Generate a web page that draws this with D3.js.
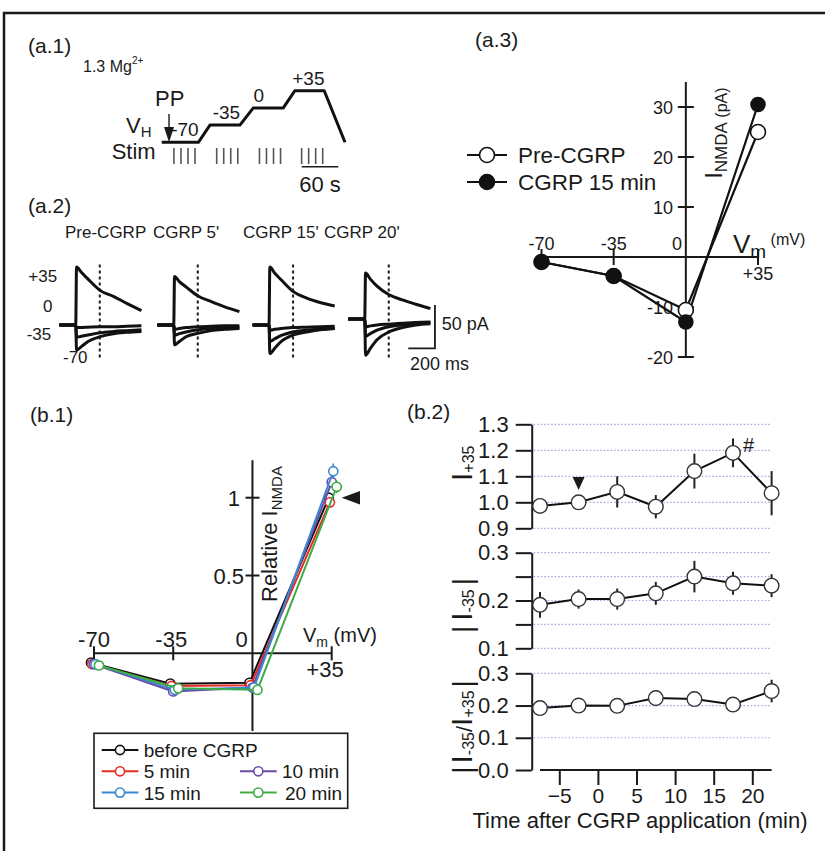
<!DOCTYPE html>
<html>
<head>
<meta charset="utf-8">
<script src="https://cdn.jsdelivr.net/npm/d3@7"></script>
<style>
  body { margin: 0; background: #fff; }
  svg { display: block; }
  text { font-family: 'Liberation Sans', Arial, Helvetica, sans-serif; fill: #1a1a1a; }
</style>
</head>
<body>
<div id="fig"></div>
<script>
// ---------- data ----------
// (a.1) holding-potential protocol (s, mV) and stimulus times
const protoTime = [0, 60, 79, 128, 150, 199, 218, 266, 300];
const protoVolt = [-70, -70, -35, -35, 0, 0, 35, 35, -70];
const stimStarts = [20, 90, 160, 229];
const stimOffsets = [0, 11.5, 23, 34.5];
const stepNames = ['-70', '-35', '0', '+35'];
const stepVolts = [-70, -35, 0, 35];

// (a.2) example NMDA currents (pA) sampled at traceTimes (ms after step)
const traceTitles = ['Pre-CGRP', "CGRP 5'", "CGRP 15'", "CGRP 20'"];
const traceTimes = [-125, -2, 4, 40, 90, 180, 280, 380, 490];
const tracePre = [
  [0, 0, 67, 61, 53, 40, 33, 25, 16.5],
  [0, 0, -3, -3, -2.5, -2, -2, -1.5, -1],
  [0, 0, -14, -13, -11.5, -9, -7.5, -6.5, -5.5],
  [0, 0, -29, -25, -19, -13.5, -10, -8.5, -7.5]
];
const trace5 = [
  [0, 0, 56, 50, 44, 33.5, 27, 21, 15.5],
  [0, 0, -5, -4, -3, -2, -1.5, -1, -1],
  [0, 0, -12, -10, -8, -5.5, -4, -3.5, -3],
  [0, 0, -23, -19, -13.5, -9.5, -6.5, -5, -4]
];
const trace15 = [
  [0, 0, 67, 60, 52, 38.5, 31, 26, 22],
  [0, 0, -6, -5, -4, -3, -2.5, -2, -1.5],
  [0, 0, -19, -16, -12, -8, -6, -5, -4],
  [0, 0, -33, -27, -19, -11.5, -8, -5.5, -4]
];
const trace20 = [
  [7, 7, 60, 53, 45, 35, 29, 24, 19],
  [7, 7, -2, -1, 0, 1, 2, 3, 3.5],
  [7, 7, -13, -10, -6, -2, 0, 1.5, 2.5],
  [7, 7, -35, -27, -17, -8, -3, 0, 1.5]
];
const traceRowNames = ['+35', '0', '-35', '-70'];

// (a.3) I-V relation (pA)
const ivVolts = [-70, -35, 0, 35];
const ivPre = [-1, -3.8, -10.6, 25];
const ivCgrp = [-1, -3.8, -13, 30.5];
const ivYTicks = [30, 20, 10, -10, -20];

// (b.1) normalised I-V
const relVolts = [-70, -35, 0, 35];
const relNames = ['before CGRP', '5 min', '10 min', '15 min', '20 min'];
const relBefore = [-0.06, -0.195, -0.19, 1.0];
const rel5 = [-0.07, -0.21, -0.205, 0.97];
const rel10 = [-0.07, -0.245, -0.22, 1.1];
const rel15 = [-0.07, -0.235, -0.22, 1.17];
const rel20 = [-0.078, -0.225, -0.235, 1.07];
const relErr35 = [0.03, 0.03, 0.03, 0.05, 0.04];
const relJitter = [-1.3, -0.8, 0, 0.7, 2.2];
const relColors = ['#111111', '#e42b24', '#6b4aa8', '#3a87d0', '#3eab47'];

// (b.2) time course
const tMin = [-7.5, -2.5, 2.5, 7.5, 12.5, 17.5, 22.5];
const iPlus35 = [0.986, 1.0, 1.04, 0.983, 1.12, 1.19, 1.035];
const iPlus35Err = [0.012, 0, 0.06, 0.045, 0.067, 0.055, 0.085];
const iMinus35 = [0.191, 0.203, 0.203, 0.215, 0.25, 0.236, 0.231];
const iMinus35Err = [0.027, 0.02, 0.022, 0.024, 0.033, 0.024, 0.024];
const ratio = [0.192, 0.2, 0.199, 0.223, 0.22, 0.203, 0.245];
const ratioErr = [0.02, 0.012, 0.02, 0.025, 0.02, 0.022, 0.035];
const timeTicks = [-5, 0, 5, 10, 15, 20];

// ---------- drawing ----------
const svg = d3.select('#fig').append('svg').attr('width', 825).attr('height', 851);
const ink = '#1a1a1a';

svg.append('path').attr('d', 'M4,851V13H825')
  .attr('fill', 'none').attr('stroke', ink).attr('stroke-width', 2.5);

function label(g, x, y, s, size, anchor) {
  return g.append('text').attr('x', x).attr('y', y).attr('font-size', size)
    .attr('text-anchor', anchor || 'start').text(s);
}

label(svg, 28, 53, '(a.1)', 21);
label(svg, 28, 213, '(a.2)', 21);
label(svg, 475, 47, '(a.3)', 21);
label(svg, 30, 422, '(b.1)', 21);
label(svg, 407, 419, '(b.2)', 21);

// ----- (a.1) -----
const a1 = svg.append('g');
const px = d3.scaleLinear().domain([0, 300]).range([161.7, 345]);
const pv = d3.scaleLinear().domain([-70, 35]).range([142.3, 90.7]);

a1.append('path')
  .datum(d3.zip(protoTime, protoVolt))
  .attr('d', d3.line().x(d => px(d[0])).y(d => pv(d[1])))
  .attr('fill', 'none').attr('stroke', '#111').attr('stroke-width', 3)
  .attr('stroke-linejoin', 'round');

a1.selectAll('line.stim')
  .data(d3.cross(stimStarts, stimOffsets, (s, o) => s + o))
  .join('line')
  .attr('x1', d => px(d)).attr('x2', d => px(d))
  .attr('y1', 148).attr('y2', 164)
  .attr('stroke', '#555').attr('stroke-width', 1.6);

const stepAt = [38, 106, 159, 240];
stepNames.forEach((s, i) => label(a1, px(stepAt[i]), pv(stepVolts[i]) - 6, s, 19, 'middle'));

a1.append('line').attr('x1', px(229)).attr('x2', px(289)).attr('y1', 166.7).attr('y2', 166.7)
  .attr('stroke', ink).attr('stroke-width', 1.6);
label(a1, px(259), 191.7, '60 s', 22, 'middle');

label(a1, 155, 106, 'PP', 22);
a1.append('line').attr('x1', px(12)).attr('x2', px(12)).attr('y1', 114).attr('y2', 130)
  .attr('stroke', ink).attr('stroke-width', 1.4);
a1.append('path')
  .attr('d', `M${px(12) - 5},127L${px(12) + 5},127L${px(12)},${pv(-70)}Z`)
  .attr('fill', ink);
const vh = label(a1, 126, 133, 'V', 22);
vh.append('tspan').attr('font-size', 15).attr('dy', 4).text('H');
label(a1, 111.7, 159, 'Stim', 22);
const mg = label(a1, 83, 72, '1.3 Mg', 16);
mg.append('tspan').attr('font-size', 10).attr('dy', -8).text('2+');

// ----- (a.2) -----
const a2 = svg.append('g');
const tx = d3.scaleLinear().domain([0, 200]).range([0, 26.7]);
const ty = d3.scaleLinear().domain([0, 50]).range([325, 281.7]);
const onsets = [76, 174, 269.3, 365];
const titleX = [65, 153, 243, 324];
const traceGroups = [tracePre, trace5, trace15, trace20];
const traceLine = d3.line()
  .x((d, j) => tx(traceTimes[j]))
  .y(d => ty(d))
  .curve(d3.curveMonotoneX);

traceGroups.forEach((grp, i) => {
  label(a2, titleX[i], 238.3, traceTitles[i], 17);
  const g = a2.append('g').attr('transform', `translate(${onsets[i]},0)`);
  g.append('line')
    .attr('x1', tx(178)).attr('x2', tx(178))
    .attr('y1', ty(70)).attr('y2', ty(-38))
    .attr('stroke', ink).attr('stroke-width', 2).attr('stroke-dasharray', '3,3');
  g.selectAll('path.tr').data(grp).join('path')
    .attr('d', traceLine)
    .attr('fill', 'none').attr('stroke', '#111').attr('stroke-width', 3)
    .attr('stroke-linejoin', 'round');
});

label(a2, 28.3, 281.7, traceRowNames[0], 17);
label(a2, 43, 311.7, traceRowNames[1], 17);
label(a2, 26.7, 340, traceRowNames[2], 17);
label(a2, 63, 363.3, traceRowNames[3], 17);

const sbX = onsets[3] + tx(524);
a2.append('path')
  .attr('d', `M${sbX},${ty(23)}V${ty(-27)}H${onsets[3] + tx(324)}`)
  .attr('fill', 'none').attr('stroke', ink).attr('stroke-width', 1.8);
label(a2, 441.7, 330, '50 pA', 18);
label(a2, 410, 370, '200 ms', 18);

// ----- (a.3) -----
const a3 = svg.append('g');
const ivX = d3.scaleLinear().domain([-70, 35]).range([541.5, 758]);
const ivY = d3.scaleLinear().domain([-20, 30]).range([357, 107]);
const x0 = ivX(0), y0 = ivY(0);

a3.append('line').attr('x1', ivX(-70)).attr('x2', ivX(35)).attr('y1', y0).attr('y2', y0)
  .attr('stroke', ink).attr('stroke-width', 2);
a3.append('line').attr('x1', x0).attr('x2', x0).attr('y1', ivY(35)).attr('y2', ivY(-20))
  .attr('stroke', ink).attr('stroke-width', 2);
a3.selectAll('line.yt').data(ivYTicks).join('line')
  .attr('x1', x0 - 8).attr('x2', x0 + 8).attr('y1', d => ivY(d)).attr('y2', d => ivY(d))
  .attr('stroke', ink).attr('stroke-width', 2);
a3.selectAll('text.yt').data(ivYTicks).join('text')
  .attr('x', 673).attr('y', d => ivY(d) + 6.5).attr('font-size', 18)
  .attr('text-anchor', 'end').text(d => d);
a3.selectAll('line.xt').data([-70, -35, 35]).join('line')
  .attr('x1', d => ivX(d)).attr('x2', d => ivX(d)).attr('y1', y0 - 8).attr('y2', y0 + 8)
  .attr('stroke', ink).attr('stroke-width', 2);
label(a3, ivX(-70), 250, '-70', 18, 'middle');
label(a3, ivX(-35), 250, '-35', 18, 'middle');
label(a3, 677, 250, '0', 18, 'middle');
label(a3, ivX(35), 280, '+35', 18, 'middle');

const vm = label(a3, 733, 253, 'V', 26);
vm.append('tspan').attr('font-size', 19).attr('dy', 5).text('m');
vm.append('tspan').attr('font-size', 16).attr('dy', -13).text(' (mV)');

const il = a3.append('text').attr('transform', 'translate(722,133) rotate(-90)')
  .attr('text-anchor', 'middle');
il.append('tspan').attr('font-size', 23).text('I');
il.append('tspan').attr('font-size', 17).attr('dy', 5).text('NMDA');
il.append('tspan').attr('font-size', 16).text(' (pA)');

const ivLine = d3.line().x((d, i) => ivX(ivVolts[i])).y(d => ivY(d));
a3.append('path').datum(ivPre).attr('d', ivLine)
  .attr('fill', 'none').attr('stroke', '#111').attr('stroke-width', 2.2);
a3.append('path').datum(ivCgrp).attr('d', ivLine)
  .attr('fill', 'none').attr('stroke', '#111').attr('stroke-width', 2.2);
a3.selectAll('circle.pre').data(ivPre).join('circle')
  .attr('cx', (d, i) => ivX(ivVolts[i])).attr('cy', d => ivY(d)).attr('r', 7.5)
  .attr('fill', '#fff').attr('stroke', '#111').attr('stroke-width', 1.6);
a3.selectAll('circle.cg').data(ivCgrp).join('circle')
  .attr('cx', (d, i) => ivX(ivVolts[i])).attr('cy', d => ivY(d)).attr('r', 7.8)
  .attr('fill', '#111');

[['Pre-CGRP', '#fff'], ['CGRP 15 min', '#111']].forEach(([s, f], i) => {
  const y = 155 + i * 27;
  a3.append('line').attr('x1', 467).attr('x2', 507).attr('y1', y).attr('y2', y)
    .attr('stroke', '#111').attr('stroke-width', 2.2);
  a3.append('circle').attr('cx', 487).attr('cy', y).attr('r', 7.5)
    .attr('fill', f).attr('stroke', '#111').attr('stroke-width', 1.6);
  label(a3, 518, y + 8, s, 22.5);
});

// ----- (b.1) -----
const b1 = svg.append('g');
const rX = d3.scaleLinear().domain([-70, 35]).range([94, 331.7]);
const rY = d3.scaleLinear().domain([0, 1]).range([653.3, 497.7]);
const rx0 = rX(0), ry0 = rY(0);

b1.append('line').attr('x1', rX(-70)).attr('x2', rX(35)).attr('y1', ry0).attr('y2', ry0)
  .attr('stroke', ink).attr('stroke-width', 2);
b1.append('line').attr('x1', rx0).attr('x2', rx0).attr('y1', rY(1.24)).attr('y2', rY(-0.5))
  .attr('stroke', ink).attr('stroke-width', 2);
b1.selectAll('line.yt').data([1, 0.5]).join('line')
  .attr('x1', rx0 - 7).attr('x2', rx0 + 7).attr('y1', d => rY(d)).attr('y2', d => rY(d))
  .attr('stroke', ink).attr('stroke-width', 2);
b1.selectAll('line.xt').data([-70, -35, 35]).join('line')
  .attr('x1', d => rX(d)).attr('x2', d => rX(d)).attr('y1', ry0 - 7).attr('y2', ry0 + 7)
  .attr('stroke', ink).attr('stroke-width', 2);
label(b1, 240, rY(1) + 8, '1', 22, 'end');
label(b1, 244, rY(0.5) + 8, '0.5', 22, 'end');
label(b1, rX(-70), 646.7, '-70', 22, 'middle');
label(b1, rX(-35) - 2, 646.7, '-35', 22, 'middle');
label(b1, 241.7, 646.7, '0', 22, 'middle');
label(b1, 325, 676.7, '+35', 22, 'middle');

const bvm = label(b1, 303, 641.7, 'V', 20);
bvm.append('tspan').attr('font-size', 14).attr('dy', 5).text('m');
bvm.append('tspan').attr('font-size', 20).attr('dy', -5).text(' (mV)');

const rl = b1.append('text').attr('transform', 'translate(276.5,602) rotate(-90)');
rl.append('tspan').attr('font-size', 22).text('Relative I');
rl.append('tspan').attr('font-size', 15).attr('dy', 5).text('NMDA');

b1.append('path').attr('d', 'M341.7,497.7L360,491L360,504.4Z').attr('fill', ink);

const relSeries = [relBefore, rel5, rel10, rel15, rel20];
relSeries.forEach((vals, k) => {
  const g = b1.append('g');
  const xs = relVolts.map(v => rX(v + relJitter[k]));
  g.append('path').datum(vals)
    .attr('d', d3.line().x((d, i) => xs[i]).y(d => rY(d)))
    .attr('fill', 'none').attr('stroke', relColors[k]).attr('stroke-width', 2);
  g.append('line').attr('x1', xs[3]).attr('x2', xs[3])
    .attr('y1', rY(vals[3] - relErr35[k])).attr('y2', rY(vals[3] + relErr35[k]))
    .attr('stroke', relColors[k]).attr('stroke-width', 1.6);
  g.selectAll('circle').data(vals).join('circle')
    .attr('cx', (d, i) => xs[i]).attr('cy', d => rY(d)).attr('r', 4.6)
    .attr('fill', '#fff').attr('stroke', relColors[k]).attr('stroke-width', 1.6);
});

b1.append('rect').attr('x', 94).attr('y', 733.3).attr('width', 253.7).attr('height', 75)
  .attr('fill', '#fff').attr('stroke', ink).attr('stroke-width', 1.6);
const legCol = [0, 0, 1, 0, 1];
const legRow = [0, 1, 1, 2, 2];
relNames.forEach((s, k) => {
  const lx = legCol[k] ? 240 : 101.7;
  const ly = 750 + legRow[k] * 21.3;
  b1.append('line').attr('x1', lx).attr('x2', lx + 36.7).attr('y1', ly).attr('y2', ly)
    .attr('stroke', relColors[k]).attr('stroke-width', 2);
  b1.append('circle').attr('cx', lx + 18.3).attr('cy', ly).attr('r', 4.6)
    .attr('fill', '#fff').attr('stroke', relColors[k]).attr('stroke-width', 1.6);
  label(b1, k === 4 ? 285 : lx + 42, ly + 7, s, 19);
});

// ----- (b.2) -----
const b2 = svg.append('g');
const tX = d3.scaleLinear().domain([-5, 20]).range([559.3, 752.3]);
const axisX = 531.7;
const grid = '#a3a3e3';

const panels = [
  { vals: iPlus35, err: iPlus35Err, y: d3.scaleLinear().domain([0.9, 1.3]).range([528.3, 424.3]),
    ticks: [0.9, 1.0, 1.1, 1.2, 1.3], fmt: d3.format('.1f') },
  { vals: iMinus35, err: iMinus35Err, y: d3.scaleLinear().domain([0.1, 0.3]).range([648.3, 552.7]),
    ticks: [0.1, 0.15, 0.2, 0.25, 0.3], fmt: d => (Math.round(d * 100) % 10 ? '' : d3.format('.1f')(d)) },
  { vals: ratio, err: ratioErr, y: d3.scaleLinear().domain([0, 0.3]).range([770, 673.3]),
    ticks: [0, 0.1, 0.2, 0.3], fmt: d3.format('.1f') }
];

panels.forEach((p, pi) => {
  const g = b2.append('g');
  g.selectAll('line.grid').data(pi === 2 ? p.ticks.slice(1) : p.ticks).join('line')
    .attr('x1', axisX + 2).attr('x2', 770).attr('y1', d => p.y(d)).attr('y2', d => p.y(d))
    .attr('stroke', grid).attr('stroke-width', 1.2).attr('stroke-dasharray', '1.5,2');

  const ax = g.append('g').attr('transform', `translate(${axisX},0)`)
    .call(d3.axisLeft(p.y).tickValues(p.ticks).tickFormat(p.fmt)
      .tickSize(16).tickSizeOuter(0).tickPadding(7));
  ax.attr('font-size', 22).attr('font-family', null);
  ax.selectAll('path, line').attr('stroke', ink).attr('stroke-width', 2);
  ax.selectAll('text').attr('fill', ink);

  const line = d3.line().x((d, i) => tX(tMin[i])).y(d => p.y(d));
  g.append('path').datum(p.vals).attr('d', line)
    .attr('fill', 'none').attr('stroke', '#111').attr('stroke-width', 2);
  g.selectAll('line.err').data(p.vals).join('line')
    .attr('x1', (d, i) => tX(tMin[i])).attr('x2', (d, i) => tX(tMin[i]))
    .attr('y1', (d, i) => p.y(d - p.err[i])).attr('y2', (d, i) => p.y(d + p.err[i]))
    .attr('stroke', '#222').attr('stroke-width', 2);
  g.selectAll('circle').data(p.vals).join('circle')
    .attr('cx', (d, i) => tX(tMin[i])).attr('cy', d => p.y(d)).attr('r', 7.3)
    .attr('fill', '#fff').attr('stroke', '#333').attr('stroke-width', 1.4);
});

const xa = b2.append('g').attr('transform', 'translate(0,770)')
  .call(d3.axisBottom(tX).tickValues(timeTicks).tickSize(15).tickSizeOuter(0).tickPadding(3));
xa.attr('font-size', 21).attr('font-family', null);
xa.select('.domain').remove();
xa.selectAll('line').attr('stroke', ink).attr('stroke-width', 2);
xa.selectAll('text').attr('fill', ink);
b2.append('line').attr('x1', tX(-7.5)).attr('x2', tX(22.5)).attr('y1', 770).attr('y2', 770)
  .attr('stroke', ink).attr('stroke-width', 2);
label(b2, 640, 827.5, 'Time after CGRP application (min)', 22, 'middle');

label(b2, 743, 452, '#', 20);
b2.append('path')
  .attr('d', `M${tX(-2.5) - 6},477L${tX(-2.5) + 6},477L${tX(-2.5)},490Z`).attr('fill', ink);

const yl1 = b2.append('text').attr('transform', 'translate(471.5,481) rotate(-90)');
yl1.append('tspan').attr('font-size', 30).text('I');
yl1.append('tspan').attr('font-size', 16).attr('dy', 2).text('+35');

const yl2 = b2.append('text').attr('transform', 'translate(471.5,633) rotate(-90)');
yl2.append('tspan').attr('font-size', 28).text('|');
yl2.append('tspan').attr('font-size', 30).attr('dx', 5).text('I');
yl2.append('tspan').attr('font-size', 16).attr('dy', 2).text('-35');
yl2.append('tspan').attr('font-size', 28).attr('dy', -2).attr('dx', 4).text('|');

const yl3 = b2.append('text').attr('transform', 'translate(471.5,727) rotate(-90)')
  .attr('text-anchor', 'middle');
yl3.append('tspan').attr('font-size', 28).text('|');
yl3.append('tspan').attr('font-size', 30).attr('dx', 3).text('I');
yl3.append('tspan').attr('font-size', 16).attr('dy', 2).text('-35');
yl3.append('tspan').attr('font-size', 22).attr('dy', -2).text('/');
yl3.append('tspan').attr('font-size', 30).text('I');
yl3.append('tspan').attr('font-size', 16).attr('dy', 2).text('+35');
yl3.append('tspan').attr('font-size', 28).attr('dy', -2).attr('dx', 3).text('|');
</script>
</body>
</html>
